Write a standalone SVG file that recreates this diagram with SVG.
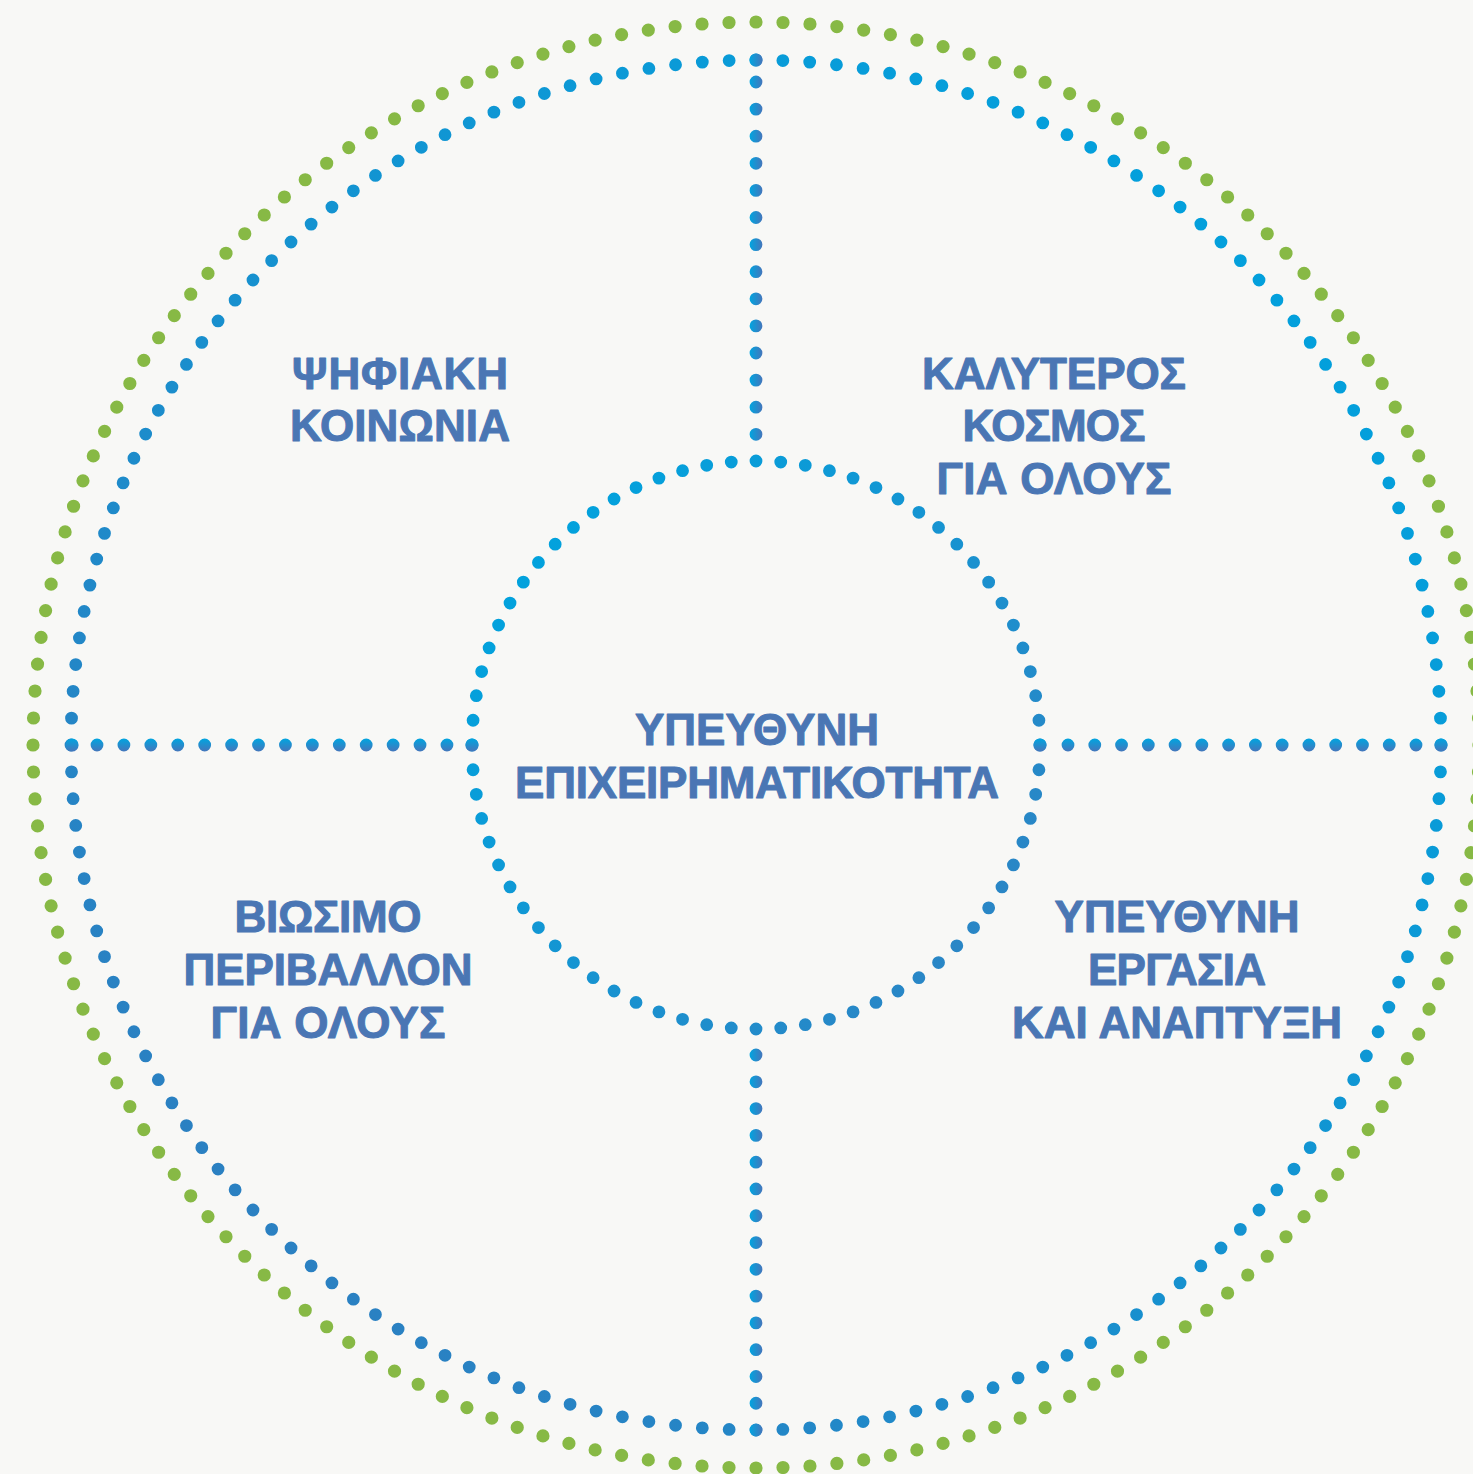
<svg xmlns="http://www.w3.org/2000/svg" width="1473" height="1474" viewBox="0 0 1473 1474">
  <defs>
    <linearGradient id="gBlueRing" gradientUnits="userSpaceOnUse" x1="150" y1="1300" x2="1350" y2="200">
      <stop offset="0" stop-color="#2f7dbf"/>
      <stop offset="0.5" stop-color="#1592d0"/>
      <stop offset="1" stop-color="#00a2de"/>
    </linearGradient>
    <linearGradient id="gInner" gradientUnits="userSpaceOnUse" x1="500" y1="560" x2="1010" y2="960">
      <stop offset="0" stop-color="#00a3de"/>
      <stop offset="1" stop-color="#2d84c4"/>
    </linearGradient>
    <linearGradient id="gVert" gradientUnits="userSpaceOnUse" x1="749.5" y1="0" x2="762.5" y2="0">
      <stop offset="0" stop-color="#00a5e0"/>
      <stop offset="1" stop-color="#4576bb"/>
    </linearGradient>
    <linearGradient id="gHorz" gradientUnits="userSpaceOnUse" x1="0" y1="738.5" x2="0" y2="751.5">
      <stop offset="0" stop-color="#00a5e0"/>
      <stop offset="1" stop-color="#4576bb"/>
    </linearGradient>
  </defs>
  <style>
    .ring { fill: none; stroke-linecap: round; stroke-dasharray: 0 1; }
    .spoke { fill: none; stroke-linecap: round; stroke-width: 12.8; }
    .lbl { font-family: "Liberation Sans", "DejaVu Sans", "Noto Sans", sans-serif; font-weight: bold; font-size: 44px; fill: #4a76b4; stroke: #4a76b4; stroke-width: 1; stroke-linejoin: round; text-anchor: middle; }
  </style>
  <rect x="0" y="0" width="1473" height="1474" fill="#f8f8f6"/>

  <g id="rings">
    <circle id="ring-outer" class="ring" cx="756" cy="745" r="723" pathLength="168" stroke="#87b945" stroke-width="13.2"/>
    <circle id="ring-blue" class="ring" cx="756" cy="745" r="685" pathLength="160" stroke="url(#gBlueRing)" stroke-width="12.8"/>
    <circle id="ring-inner" class="ring" cx="756" cy="745" r="284" pathLength="72" stroke="url(#gInner)" stroke-width="12.8"/>
  </g>

  <g id="connectors">
    <line class="spoke" x1="756" y1="82" x2="756" y2="436" stroke="url(#gVert)" stroke-dasharray="0 27.1"/>
    <circle cx="756" cy="60" r="6.6" fill="url(#gVert)"/>
    <line class="spoke" x1="756" y1="1055" x2="756" y2="1432" stroke="url(#gVert)" stroke-dasharray="0 26.79"/>
    <line class="spoke" x1="97" y1="745" x2="449" y2="745" stroke="url(#gHorz)" stroke-dasharray="0 26.92"/>
    <circle cx="72" cy="745" r="6.6" fill="url(#gHorz)"/>
    <circle cx="472" cy="745" r="6.6" fill="url(#gHorz)"/>
    <line class="spoke" x1="1068" y1="745" x2="1418" y2="745" stroke="url(#gHorz)" stroke-dasharray="0 26.77"/>
    <circle cx="1040" cy="745" r="6.6" fill="url(#gHorz)"/>
    <circle cx="1441" cy="745" r="6.6" fill="url(#gHorz)"/>
  </g>

  <g id="node-center">
    <text class="lbl" x="757" y="745" textLength="244">ΥΠΕΥΘΥΝΗ</text>
    <text class="lbl" x="757" y="798" textLength="484">ΕΠΙΧΕΙΡΗΜΑΤΙΚΟΤΗΤΑ</text>
  </g>
  <g id="node-digital">
    <text class="lbl" x="400" y="389" textLength="216">ΨΗΦΙΑΚΗ</text>
    <text class="lbl" x="400" y="441" textLength="220">ΚΟΙΝΩΝΙΑ</text>
  </g>
  <g id="node-world">
    <text class="lbl" x="1054" y="389" textLength="264">ΚΑΛΥΤΕΡΟΣ</text>
    <text class="lbl" x="1054" y="441" textLength="183">ΚΟΣΜΟΣ</text>
    <text class="lbl" x="1054" y="494" textLength="235">ΓΙΑ ΟΛΟΥΣ</text>
  </g>
  <g id="node-environment">
    <text class="lbl" x="328" y="932" textLength="187">ΒΙΩΣΙΜΟ</text>
    <text class="lbl" x="328" y="985" textLength="289">ΠΕΡΙΒΑΛΛΟΝ</text>
    <text class="lbl" x="328" y="1038" textLength="235">ΓΙΑ ΟΛΟΥΣ</text>
  </g>
  <g id="node-work">
    <text class="lbl" x="1177" y="932" textLength="245">ΥΠΕΥΘΥΝΗ</text>
    <text class="lbl" x="1177" y="985" textLength="178">ΕΡΓΑΣΙΑ</text>
    <text class="lbl" x="1177" y="1038" textLength="330">ΚΑΙ ΑΝΑΠΤΥΞΗ</text>
  </g>
</svg>
